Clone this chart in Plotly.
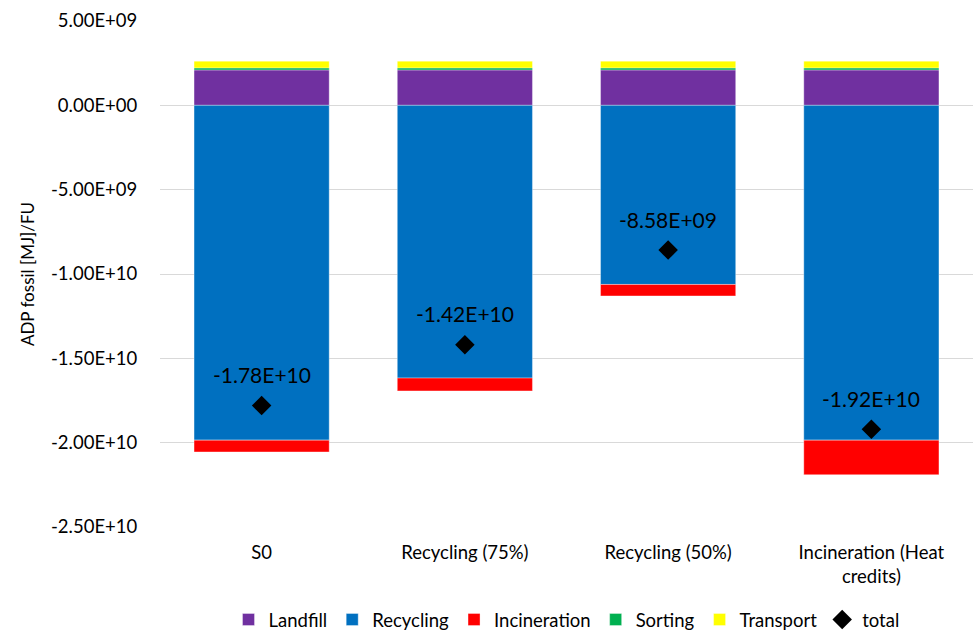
import plotly.graph_objects as go

categories = ["S0", "Recycling (75%)", "Recycling (50%)", "Incineration (Heat<br>credits)"]
landfill = [2.1e9, 2.1e9, 2.1e9, 2.1e9]
recycling = [-1.985e10, -1.617e10, -1.062e10, -1.985e10]
incineration = [-0.70e9, -0.76e9, -0.68e9, -2.05e9]
sorting = [0.12e9, 0.12e9, 0.12e9, 0.12e9]
transport = [0.40e9, 0.40e9, 0.40e9, 0.40e9]
total = [-1.78e10, -1.42e10, -8.58e9, -1.92e10]
total_labels = ["-1.78E+10", "-1.42E+10", "-8.58E+09", "-1.92E+10"]

tickvals = [5e9, 0, -5e9, -1e10, -1.5e10, -2e10, -2.5e10]
ticktext = ["5.00E+09", "0.00E+00", "-5.00E+09", "-1.00E+10", "-1.50E+10", "-2.00E+10", "-2.50E+10"]

FONT = "Lato, 'Open Sans', sans-serif"
edge = dict(width=0.6, color="rgba(255,255,255,0.6)")

fig = go.Figure()
fig.add_bar(name="Landfill", x=categories, y=landfill, marker=dict(color="#7030A0", line=edge))
fig.add_bar(name="Recycling", x=categories, y=recycling, marker=dict(color="#0070C0", line=edge))
fig.add_bar(name="Incineration", x=categories, y=incineration, marker=dict(color="#FF0000", line=edge))
fig.add_bar(name="Sorting", x=categories, y=sorting, marker=dict(color="#00B050", line=edge))
fig.add_bar(name="Transport", x=categories, y=transport, marker=dict(color="#FFFF00", line=edge))
fig.add_scatter(name="total", x=categories, y=total, mode="markers",
                marker=dict(symbol="diamond", size=15, color="black"))

for c, t, lab in zip(categories, total, total_labels):
    fig.add_annotation(x=c, y=t, text=lab, showarrow=False, yshift=31,
                       font=dict(size=21, color="black", family=FONT))

fig.update_layout(
    width=973, height=632,
    barmode="relative", bargap=0.335,
    plot_bgcolor="white", paper_bgcolor="white",
    margin=dict(l=160, r=0, t=21, b=105, autoexpand=False),
    font=dict(family=FONT, size=18.5, color="black"),
    legend=dict(orientation="h", x=0.5, xanchor="center", yref="container",
                y=0.019, yanchor="middle",
                font=dict(size=18.5), traceorder="normal"),
    yaxis=dict(range=[-2.5e10, 5e9], tickvals=tickvals, ticktext=ticktext,
               showgrid=True, gridcolor="#D9D9D9", gridwidth=1,
               zeroline=True, zerolinecolor="#D9D9D9", zerolinewidth=1,
               showline=False, ticks="outside", ticklen=18, tickcolor="rgba(0,0,0,0)",
               title=dict(text="ADP fossil [MJ]/FU", font=dict(size=17), standoff=12),
               tickfont=dict(size=18.5)),
    xaxis=dict(showline=False, ticks="", tickfont=dict(size=18.5), ticklabelstandoff=12),
    showlegend=True,
)

fig.write_html("out.html")
